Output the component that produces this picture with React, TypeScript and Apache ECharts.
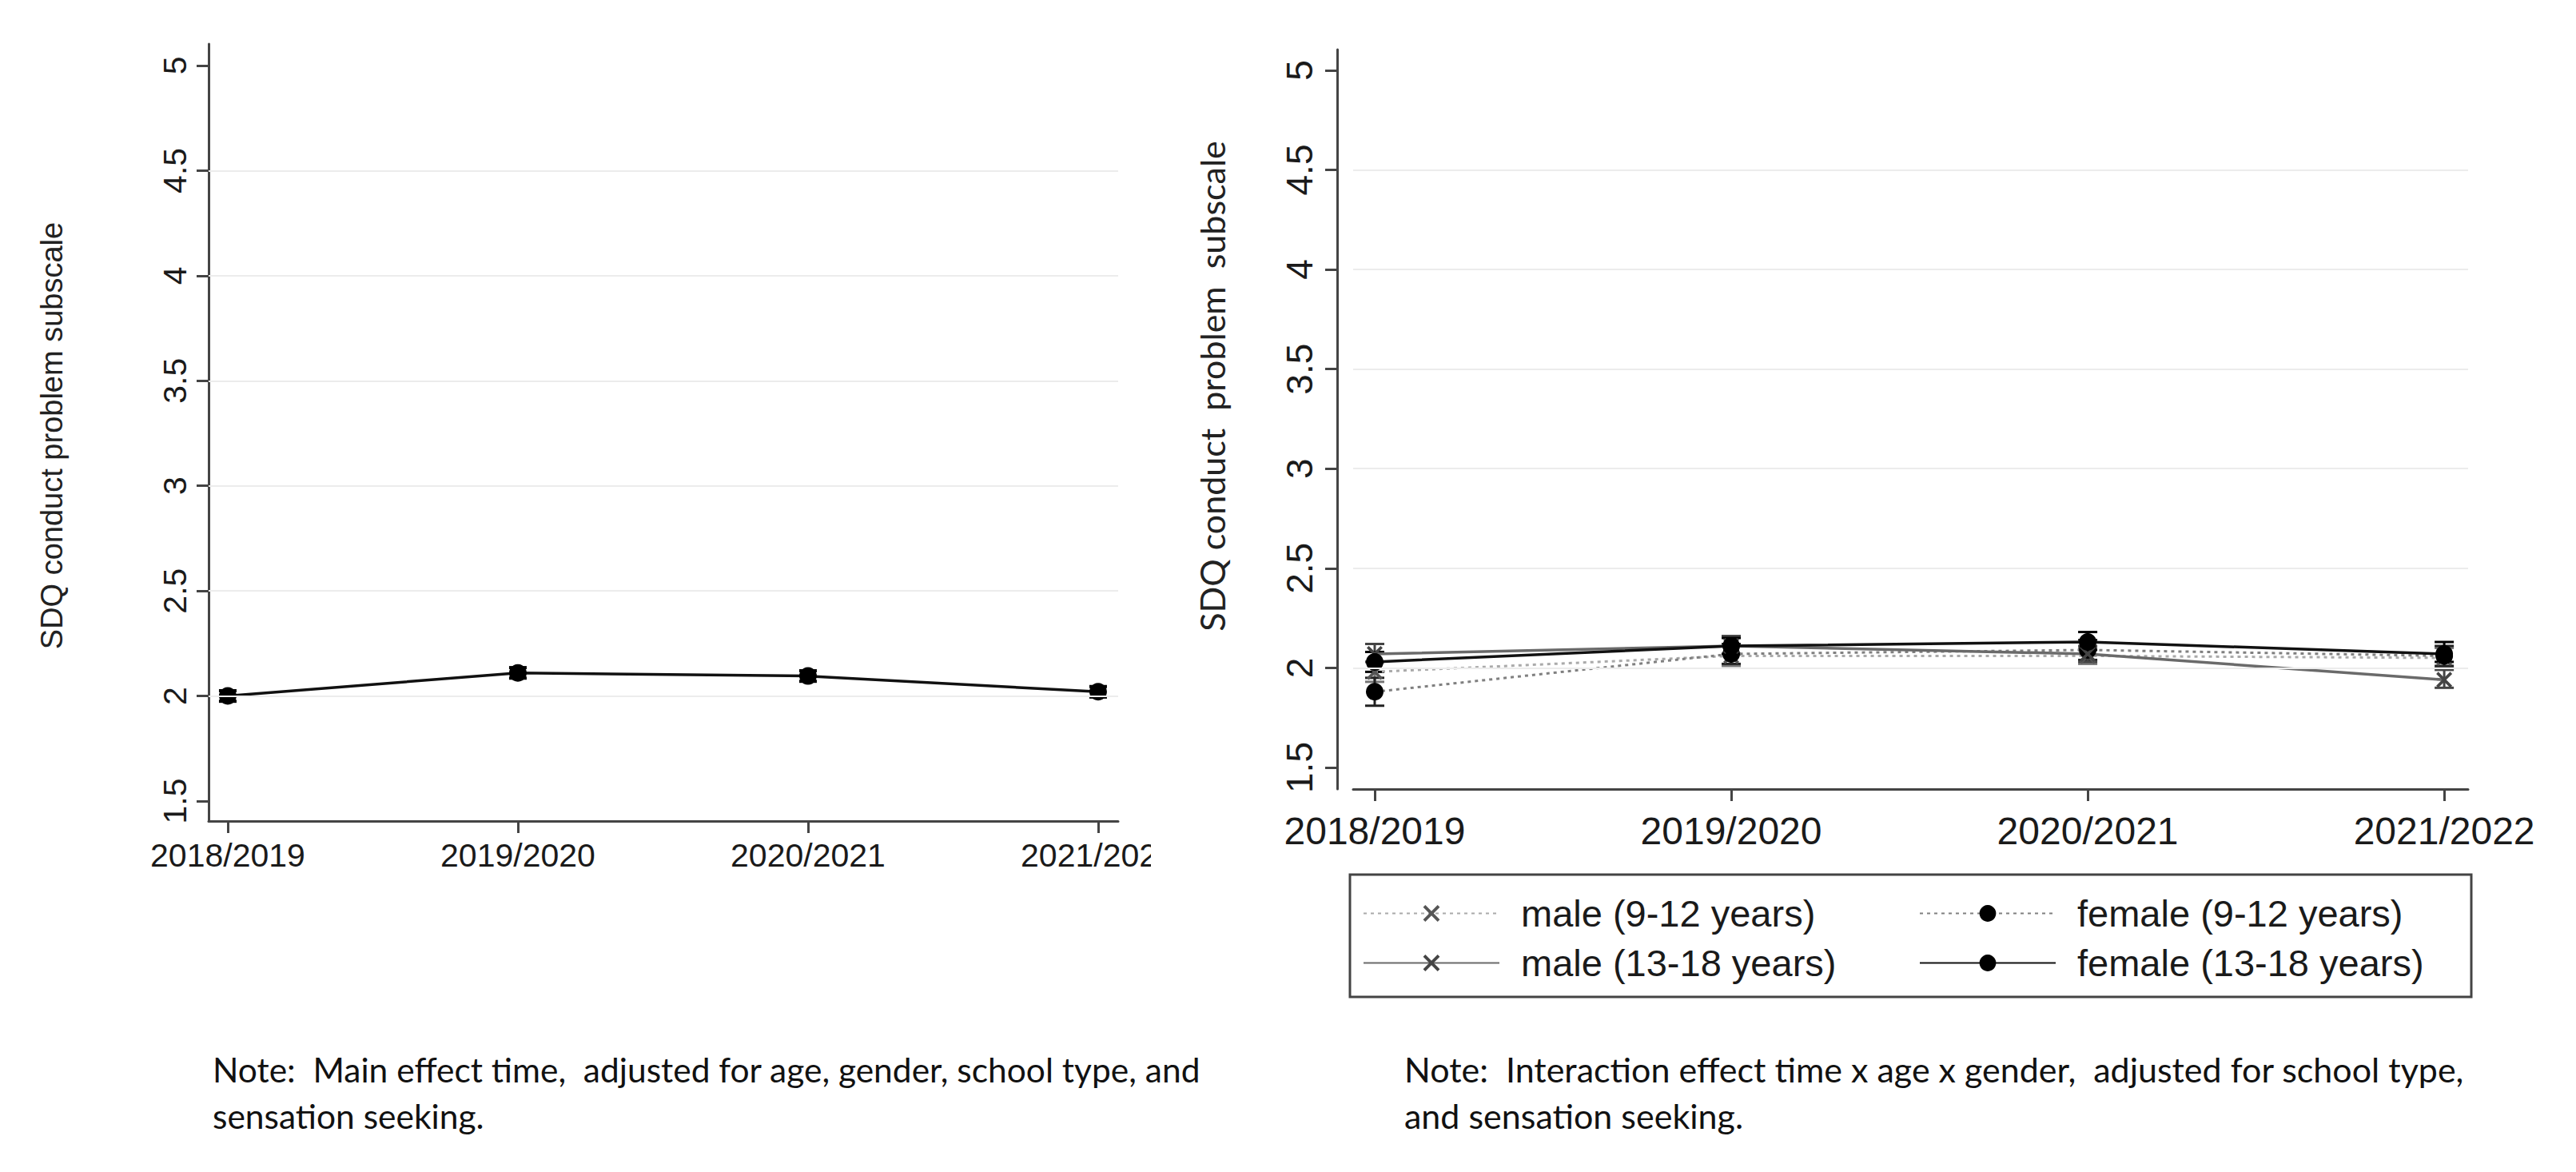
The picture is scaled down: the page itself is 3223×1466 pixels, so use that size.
import React, { useEffect, useRef } from "react";
import * as echarts from "echarts";

const CATEGORIES = ["2018/2019", "2019/2020", "2020/2021", "2021/2022"];
const CAT_INDEX = [0, 1, 2, 3];
const Y_TICKS = [1.5, 2, 2.5, 3, 3.5, 4, 4.5, 5];
const GRID_VALUES = [2, 2.5, 3, 3.5, 4, 4.5];

// Left panel: main effect time
const MAIN_MEAN = [2.0, 2.11, 2.095, 2.02];
const MAIN_LO = [1.975, 2.085, 2.07, 1.995];
const MAIN_HI = [2.025, 2.135, 2.12, 2.045];

// Right panel: interaction time x age x gender
const MALE_YOUNG_MEAN = [1.98, 2.06, 2.06, 2.05];
const MALE_YOUNG_LO = [1.93, 2.01, 2.02, 2.0];
const MALE_YOUNG_HI = [2.03, 2.11, 2.1, 2.1];

const FEMALE_YOUNG_MEAN = [1.88, 2.07, 2.09, 2.06];
const FEMALE_YOUNG_LO = [1.81, 2.02, 2.04, 2.01];
const FEMALE_YOUNG_HI = [1.95, 2.12, 2.14, 2.11];

const MALE_OLD_MEAN = [2.07, 2.11, 2.07, 1.94];
const MALE_OLD_LO = [2.03, 2.07, 2.03, 1.9];
const MALE_OLD_HI = [2.12, 2.16, 2.11, 1.99];

const FEMALE_OLD_MEAN = [2.03, 2.11, 2.13, 2.07];
const FEMALE_OLD_LO = [1.98, 2.07, 2.09, 2.03];
const FEMALE_OLD_HI = [2.08, 2.15, 2.18, 2.13];

const SERIES_NAMES = [
  "male (9-12 years)",
  "female (9-12 years)",
  "male (13-18 years)",
  "female (13-18 years)",
];

const Y_TITLE = "SDQ conduct problem subscale";
const Y_TITLE_RIGHT = "SDQ conduct  problem  subscale";
const NOTE_LEFT = [
  "Note:  Main effect time,  adjusted for age, gender, school type, and",
  "sensation seeking.",
];
const NOTE_RIGHT = [
  "Note:  Interaction effect time x age x gender,  adjusted for school type,",
  "and sensation seeking.",
];

const X_MARK =
  "path://M1.3,0L5,3.7L8.7,0L10,1.3L6.3,5L10,8.7L8.7,10L5,6.3L1.3,10L0,8.7L3.7,5L0,1.3Z";

const ARIAL = "'Liberation Sans', Arial, sans-serif";
const CALIBRI = "Lato, 'Open Sans', sans-serif";

function pts(vals: number[]) {
  return vals.map((v, i) => [CAT_INDEX[i], v]);
}

function errorBars(lo: number[], hi: number[], color: string, capW: number, width = 3) {
  return {
    type: "custom",
    silent: true,
    z: 3,
    data: lo.map((l, i) => [CAT_INDEX[i], l, hi[i]]),
    encode: { x: 0, y: [1, 2] },
    renderItem: (_params: any, api: any) => {
      const x = api.value(0);
      const p1 = api.coord([x, api.value(1)]);
      const p2 = api.coord([x, api.value(2)]);
      const h = capW / 2;
      const style = { stroke: color, lineWidth: width, fill: "none" };
      return {
        type: "group",
        children: [
          { type: "line", shape: { x1: p1[0], y1: p1[1], x2: p2[0], y2: p2[1] }, style },
          { type: "line", shape: { x1: p1[0] - h, y1: p1[1], x2: p1[0] + h, y2: p1[1] }, style },
          { type: "line", shape: { x1: p2[0] - h, y1: p2[1], x2: p2[0] + h, y2: p2[1] }, style },
        ],
      };
    },
  };
}

function gridSeries(sample: number[]) {
  return {
    type: "line",
    silent: true,
    z: 1,
    data: pts(sample),
    symbol: "none",
    lineStyle: { opacity: 0 },
    markLine: {
      silent: true,
      symbol: "none",
      label: { show: false },
      lineStyle: { color: "#ececec", width: 2, type: "solid" },
      data: GRID_VALUES.map((v) => ({ yAxis: v })),
    },
  };
}

function xAxisCfg(min: number, max: number, fontSize: number, margin: number) {
  return {
    type: "value",
    min,
    max,
    axisLine: { show: true, onZero: false, lineStyle: { color: "#444", width: 3 } },
    axisTick: { show: true, length: 15, customValues: CAT_INDEX, lineStyle: { color: "#444", width: 3 } },
    axisLabel: {
      customValues: CAT_INDEX,
      formatter: (v: number) => CATEGORIES[Math.round(v)] ?? "",
      margin,
      fontSize,
      color: "#1a1a1a",
      fontFamily: ARIAL,
    },
    splitLine: { show: false },
  };
}

function yAxisCfg(min: number, max: number, fontSize: number, margin: number, offset: number) {
  return {
    type: "value",
    min,
    max,
    offset,
    axisLine: { show: true, onZero: false, lineStyle: { color: "#444", width: 3 } },
    axisTick: { show: true, length: 15, customValues: Y_TICKS, lineStyle: { color: "#444", width: 3 } },
    axisLabel: {
      customValues: Y_TICKS,
      rotate: 90,
      margin,
      fontSize,
      color: "#1a1a1a",
      fontFamily: ARIAL,
      formatter: (v: number) => String(v),
    },
    splitLine: { show: false },
  };
}

function lineSeries(
  name: string,
  vals: number[],
  lineColor: string,
  dashed: boolean,
  symbol: string,
  symbolSize: number,
  markerColor: string,
  width = 3
) {
  return {
    name,
    type: "line",
    z: 4,
    data: pts(vals),
    symbol,
    symbolSize,
    showSymbol: true,
    lineStyle: { color: lineColor, width, type: dashed ? [4, 5] : "solid" },
    itemStyle: { color: markerColor },
  };
}

export default function App() {
  const leftRef = useRef<HTMLDivElement>(null);
  const mainRef = useRef<HTMLDivElement>(null);

  useEffect(() => {
    const left = echarts.init(leftRef.current!, undefined, { renderer: "svg" });
    left.setOption({
      animation: false,
      backgroundColor: "transparent",
      grid: { left: 261, top: 55, width: 1138, height: 972, outerBoundsMode: "none", containLabel: false },
      xAxis: xAxisCfg(-0.066, 3.069, 41, 22),
      yAxis: yAxisCfg(1.405, 5.1025, 41, 22, 0),
      series: [
        gridSeries(MAIN_MEAN),
        errorBars(MAIN_LO, MAIN_HI, "#000", 22, 4),
        {
          name: "main",
          type: "line",
          z: 4,
          data: pts(MAIN_MEAN),
          symbol: "circle",
          symbolSize: 22,
          lineStyle: { color: "#111", width: 3.5 },
          itemStyle: { color: "#000" },
        },
      ],
    });

    const main = echarts.init(mainRef.current!, undefined, { renderer: "svg" });
    main.setOption({
      animation: false,
      backgroundColor: "#fff",
      grid: { left: 1693, top: 62, width: 1395, height: 925, outerBoundsMode: "none", containLabel: false },
      xAxis: xAxisCfg(-0.0605, 3.067, 48, 28),
      yAxis: yAxisCfg(1.3916, 5.104, 46, 24, 20),
      legend: [
        {
          data: [SERIES_NAMES[0], SERIES_NAMES[2]],
          orient: "vertical",
          left: 1705,
          top: 1119,
          padding: 0,
          itemWidth: 170,
          itemHeight: 26,
          itemGap: 15,
          selectedMode: false,
          textStyle: { fontSize: 47, color: "#1a1a1a", fontFamily: ARIAL, padding: [0, 0, 0, 22] },
        },
        {
          data: [SERIES_NAMES[1], SERIES_NAMES[3]],
          orient: "vertical",
          left: 2401,
          top: 1119,
          padding: 0,
          itemWidth: 170,
          itemHeight: 26,
          itemGap: 15,
          selectedMode: false,
          textStyle: { fontSize: 47, color: "#1a1a1a", fontFamily: ARIAL, padding: [0, 0, 0, 22] },
        },
      ],
      graphic: [
        {
          type: "rect",
          shape: { x: 1689, y: 1094, width: 1403, height: 153 },
          style: { fill: "none", stroke: "#444", lineWidth: 3 },
          silent: true,
        },
        {
          type: "text",
          x: 65,
          y: 545,
          rotation: Math.PI / 2,
          style: { text: Y_TITLE, font: `38px ${ARIAL}`, fill: "#222", align: "center", verticalAlign: "middle" },
        },
        {
          type: "text",
          x: 1516,
          y: 483,
          rotation: Math.PI / 2,
          style: { text: Y_TITLE_RIGHT, font: `43px ${CALIBRI}`, fill: "#222", align: "center", verticalAlign: "middle" },
        },
        ...NOTE_LEFT.map((t, i) => ({
          type: "text",
          x: 266,
          y: 1337 + i * 58,
          style: { text: t, font: `42.5px ${CALIBRI}`, fill: "#111", align: "left", verticalAlign: "middle" },
        })),
        ...NOTE_RIGHT.map((t, i) => ({
          type: "text",
          x: 1757,
          y: 1337 + i * 58,
          style: { text: t, font: `43px ${CALIBRI}`, fill: "#111", align: "left", verticalAlign: "middle" },
        })),
      ],
      series: [
        gridSeries(FEMALE_OLD_MEAN),
        errorBars(MALE_YOUNG_LO, MALE_YOUNG_HI, "#777", 24),
        errorBars(FEMALE_YOUNG_LO, FEMALE_YOUNG_HI, "#222", 24),
        errorBars(MALE_OLD_LO, MALE_OLD_HI, "#444", 24),
        errorBars(FEMALE_OLD_LO, FEMALE_OLD_HI, "#000", 24),
        lineSeries(SERIES_NAMES[0], MALE_YOUNG_MEAN, "#aaaaaa", true, X_MARK, 20, "#555"),
        lineSeries(SERIES_NAMES[1], FEMALE_YOUNG_MEAN, "#808080", true, "circle", 22, "#000"),
        lineSeries(SERIES_NAMES[2], MALE_OLD_MEAN, "#6a6a6a", false, X_MARK, 20, "#444", 3.5),
        lineSeries(SERIES_NAMES[3], FEMALE_OLD_MEAN, "#111", false, "circle", 22, "#000", 3.5),
      ],
    });

    return () => {
      left.dispose();
      main.dispose();
    };
  }, []);

  return (
    <div
      style={{
        position: "absolute",
        left: 0,
        top: 0,
        width: 3223,
        height: 1466,
        background: "#fff",
        overflow: "hidden",
      }}
    >
      <div ref={mainRef} style={{ position: "absolute", left: 0, top: 0, width: 3223, height: 1466 }} />
      <div ref={leftRef} style={{ position: "absolute", left: 0, top: 0, width: 1440, height: 1160 }} />
    </div>
  );
}
